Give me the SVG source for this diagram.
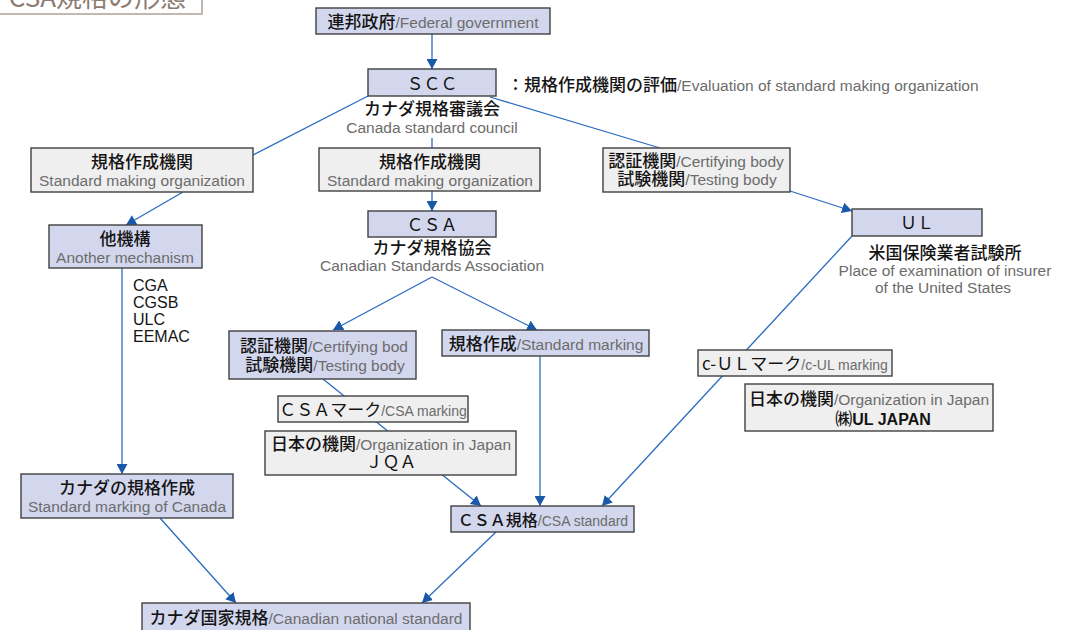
<svg xmlns="http://www.w3.org/2000/svg" width="1078" height="630" viewBox="0 0 1078 630">
<style>
.c{stroke:#2a6cc0;stroke-width:1.3;fill:none}
.ca{stroke:#2a6cc0;stroke-width:1.3;fill:none;marker-end:url(#ah)}
.b{fill:#d3d7ee;stroke:#404040;stroke-width:1.4}
.g{fill:#efefef;stroke:#404040;stroke-width:1.4}
text{font-family:"Noto Sans CJK JP","Noto Sans",sans-serif;font-size:17px;fill:#141414;font-weight:500}
.m{text-anchor:middle}
.en{font-family:"Liberation Sans","Noto Sans CJK JP",sans-serif;font-size:15.5px;fill:#6c6c6c;font-weight:400}
.sm{font-size:14px}
.lat{font-family:"Liberation Sans","Noto Sans CJK JP",sans-serif;font-size:16px;fill:#141414;font-weight:400}
</style>
<defs>
<marker id="ah" viewBox="0 0 10 10" refX="10" refY="5" markerWidth="10" markerHeight="11" markerUnits="userSpaceOnUse" orient="auto" preserveAspectRatio="none"><path d="M0,0 L10,5 L0,10 z" fill="#1a58aa"/></marker>
</defs>
<g id="title">
<rect x="-2" y="-30" width="204" height="44" fill="#ffffff" stroke="#a89a92" stroke-width="1.4"/>
<text x="186" y="7" text-anchor="end" style="font-size:26px;fill:#8c7b72;font-weight:400">CSA規格の形態</text>
</g>
<g id="connectors">
<line class="ca" x1="432" y1="34" x2="432" y2="69"/>
<line class="c" x1="368" y1="96" x2="253" y2="155"/>
<line class="c" x1="490" y1="97" x2="660" y2="148"/>
<line class="c" x1="432" y1="138" x2="432" y2="148"/>
<line class="ca" x1="183" y1="192" x2="126" y2="225"/>
<line class="ca" x1="432" y1="191" x2="432" y2="211"/>
<line class="ca" x1="790" y1="191" x2="852" y2="211"/>
<line class="ca" x1="432" y1="277" x2="333" y2="330"/>
<line class="ca" x1="432" y1="277" x2="537" y2="330"/>
<line class="ca" x1="323" y1="379" x2="481" y2="506"/>
<line class="ca" x1="122" y1="268" x2="122" y2="474"/>
<line class="ca" x1="540" y1="356" x2="540" y2="506"/>
<line class="ca" x1="852" y1="236" x2="602" y2="506"/>
<line class="ca" x1="160" y1="518" x2="236" y2="603"/>
<line class="ca" x1="496" y1="532" x2="422" y2="603"/>
</g>
<g id="federal">
<rect class="b" x="316" y="8" width="234" height="26"/>
<text class="m" x="433" y="28">連邦政府<tspan class="en">/Federal government</tspan></text>
</g>
<g id="scc">
<rect class="b" x="368" y="69" width="128" height="27"/>
<text class="m" x="432" y="90" style="font-weight:400">ＳＣＣ</text>
<text class="m" x="432" y="115">カナダ規格審議会</text>
<text class="m en" x="432" y="133">Canada standard council</text>
</g>
<g id="scc-note">
<text x="507" y="91">：規格作成機関の評価<tspan class="en">/Evaluation of standard making organization</tspan></text>
</g>
<g id="smo-left">
<rect class="g" x="31" y="148" width="222" height="44"/>
<text class="m" x="142" y="168">規格作成機関</text>
<text class="m en" x="142" y="186">Standard making organization</text>
</g>
<g id="smo-mid">
<rect class="g" x="319" y="148" width="221" height="43"/>
<text class="m" x="430" y="168">規格作成機関</text>
<text class="m en" x="430" y="186">Standard making organization</text>
</g>
<g id="cert-right">
<rect class="g" x="603" y="148" width="187" height="44"/>
<text class="m" x="696" y="167">認証機関<tspan class="en">/Certifying body</tspan></text>
<text class="m" x="697" y="185">試験機関<tspan class="en">/Testing body</tspan></text>
</g>
<g id="another">
<rect class="b" x="49" y="225" width="153" height="43"/>
<text class="m" x="125" y="245">他機構</text>
<text class="m en" x="125" y="263">Another mechanism</text>
</g>
<g id="others-list">
<text class="lat" x="133" y="291">CGA</text>
<text class="lat" x="133" y="308">CGSB</text>
<text class="lat" x="133" y="325">ULC</text>
<text class="lat" x="133" y="342">EEMAC</text>
</g>
<g id="csa">
<rect class="b" x="368" y="211" width="128" height="26"/>
<text class="m" x="432" y="231" style="font-weight:400">ＣＳＡ</text>
<text class="m" x="432" y="254">カナダ規格協会</text>
<text class="m en" x="432" y="271">Canadian Standards Association</text>
</g>
<g id="ul">
<rect class="b" x="852" y="209" width="130" height="27"/>
<text class="m" x="917" y="229" style="font-weight:400">ＵＬ</text>
<text class="m" x="945" y="259">米国保険業者試験所</text>
<text class="m en" x="945" y="276">Place of examination of insurer</text>
<text class="m en" x="943" y="293">of the United States</text>
</g>
<g id="cert-csa">
<rect class="b" x="229" y="331" width="187" height="48"/>
<text class="m" x="324" y="352">認証機関<tspan class="en">/Certifying bod</tspan></text>
<text class="m" x="325" y="371">試験機関<tspan class="en">/Testing body</tspan></text>
</g>
<g id="std-marking">
<rect class="b" x="442" y="330" width="207" height="26"/>
<text class="m" x="546" y="350">規格作成<tspan class="en">/Standard marking</tspan></text>
</g>
<g id="csa-mark">
<rect class="g" x="278" y="396" width="190" height="26"/>
<text class="m" x="373" y="416" style="font-weight:400">ＣＳＡマーク<tspan class="en sm">/CSA marking</tspan></text>
</g>
<g id="jqa">
<rect class="g" x="265" y="431" width="251" height="44"/>
<text class="m" x="391" y="450">日本の機関<tspan class="en">/Organization in Japan</tspan></text>
<text class="m" x="391" y="468" style="font-weight:400">ＪＱＡ</text>
</g>
<g id="cul-mark">
<rect class="g" x="698" y="350" width="194" height="26"/>
<text class="m" x="795" y="370" style="font-weight:400">c-ＵＬマーク<tspan class="en sm">/c-UL marking</tspan></text>
</g>
<g id="ul-japan">
<rect class="g" x="745" y="384" width="248" height="47"/>
<text class="m" x="869" y="405">日本の機関<tspan class="en">/Organization in Japan</tspan></text>
<text class="m" x="883" y="425">㈱<tspan class="lat" style="font-weight:700;font-size:16px">UL JAPAN</tspan></text>
</g>
<g id="canada-making">
<rect class="b" x="21" y="474" width="212" height="44"/>
<text class="m" x="127" y="494">カナダの規格作成</text>
<text class="m en" x="127" y="512">Standard marking of Canada</text>
</g>
<g id="csa-standard">
<rect class="b" x="451" y="506" width="183" height="26"/>
<text class="m" x="543" y="526" style="font-size:16px">ＣＳＡ規格<tspan class="en sm">/CSA standard</tspan></text>
</g>
<g id="national">
<rect class="b" x="142" y="603" width="328" height="30"/>
<text class="m" x="306" y="624">カナダ国家規格<tspan class="en">/Canadian national standard</tspan></text>
</g>
</svg>
